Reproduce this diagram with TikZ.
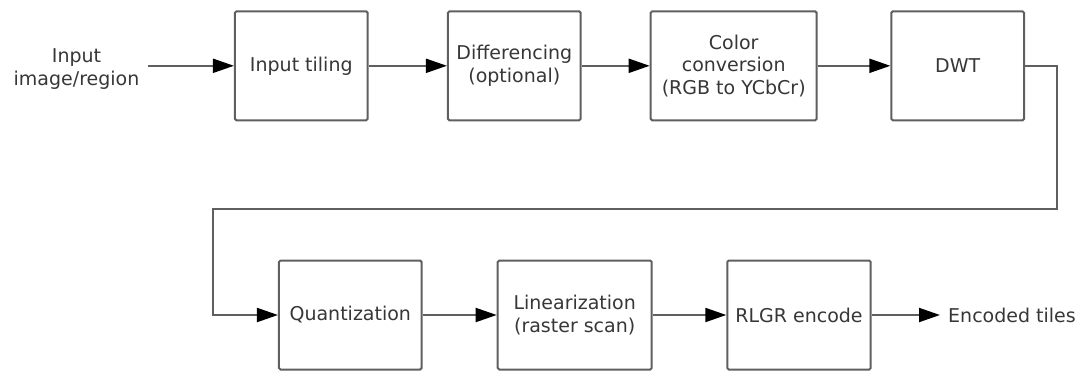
\documentclass[tikz,border=0pt]{standalone}
\usepackage{fontspec}
\setmainfont{DejaVu Sans}
\usetikzlibrary{arrows.meta}
\definecolor{linegray}{RGB}{95,95,95}
\definecolor{textgray}{RGB}{55,55,55}
\tikzset{
  blockbox/.style={draw=linegray, line width=2pt, rounded corners=1.5pt, fill=white,
    minimum height=109pt, align=center, text=textgray, inner sep=2pt,
    font=\fontsize{19}{22.5}\selectfont},
  plaintext/.style={align=center, text=textgray, font=\fontsize{19}{22.5}\selectfont},
  flow/.style={draw=linegray, line width=2pt, -{Triangle[length=21pt,width=14pt,fill=black,color=black]}},
}
\begin{document}
\begin{tikzpicture}[x=1pt,y=-1pt]
\useasboundingbox (0,0) rectangle (1077,370);
% top row
\node[blockbox, minimum width=132.7pt] (tiling) at (301.3,65.8) {Input tiling};
\node[blockbox, minimum width=132.7pt] (diff) at (514.3,65.8) {Differencing\\(optional)};
\node[blockbox, minimum width=166pt] (color) at (733.7,65.8) {Color\\conversion\\(RGB to YCbCr)};
\node[blockbox, minimum width=132.7pt] (dwt) at (957.7,65.8) {DWT};
% bottom row
\node[blockbox, minimum width=142.7pt] (quant) at (350.3,315) {Quantization};
\node[blockbox, minimum width=154pt] (lin) at (574.7,315) {Linearization\\(raster scan)};
\node[blockbox, minimum width=143.4pt] (rlgr) at (799,315) {RLGR encode};
% texts
\node[plaintext, inner sep=0pt] (inp) at (76.5,69) {Input\\image/region};
\coordinate (inpstart) at (148,65.8);
\node[plaintext, anchor=west, inner sep=0pt] (out) at (948,315) {Encoded tiles};
\coordinate (outend) at (940,315);
% connectors
\draw[flow] (inpstart) -- (tiling.west);
\draw[flow] (tiling) -- (diff);
\draw[flow] (diff) -- (color);
\draw[flow] (color) -- (dwt);
\coordinate (c1) at (1056.7,208.5);
\coordinate (c2) at (213.3,208.5);
\draw[flow] (dwt.east) -| (c1) -- (c2) |- (quant.west);
\draw[flow] (quant) -- (lin);
\draw[flow] (lin) -- (rlgr);
\draw[flow] (rlgr.east) -- (outend);
\end{tikzpicture}
\end{document}
